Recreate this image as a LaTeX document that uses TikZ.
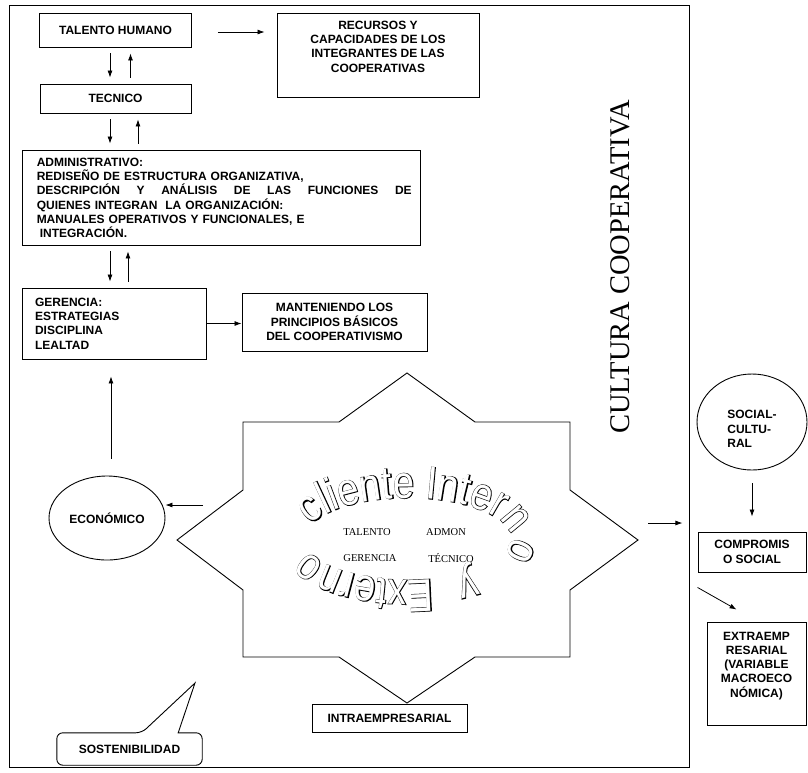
\documentclass[tikz,border=0pt]{standalone}
\usepackage{fontspec}
\setmainfont{Liberation Sans}
\newfontfamily\romana{Liberation Serif}
\newfontfamily\arco[FakeStretch=0.83]{Liberation Sans}
\newfontfamily\arcogrueso[FakeStretch=0.83,FakeBold=2.5]{Liberation Sans}
\usetikzlibrary{arrows.meta,shapes.geometric,decorations.text,positioning}
\newcommand{\letracaja}{\bfseries\fontsize{12}{14.3}\selectfont}
\newcommand{\letraarco}{\fontsize{46}{46}\selectfont}
\tikzstyle{caja}=[draw,line width=0.9pt,inner sep=0pt,font=\letracaja,align=center]
\tikzstyle{texto}=[inner sep=0pt,font=\letracaja]
\tikzstyle{elipse}=[caja,ellipse]
\tikzstyle{flecha}=[draw,line width=0.8pt,-{Latex[length=7pt,width=5pt]}]
\tikzstyle{palabra}=[inner sep=0pt,font=\romana\fontsize{10.5}{12}\selectfont]

\begin{document}
\begin{tikzpicture}[x=1pt,y=-1pt]
   \useasboundingbox (0,0) rectangle (808,772);
   \node[caja,minimum width=680pt,minimum height=762pt] (marco) at (349,386) {};
   \node[caja,minimum width=152pt,minimum height=34pt] (talento) at (115.5,30) {TALENTO HUMANO};
   \node[caja,minimum width=151pt,minimum height=29pt] (tecnico) at (115.5,98.5) {TECNICO};
   \node[caja,minimum width=202pt,minimum height=84pt] (recursos) at (378,55) {};
   \node[texto,align=center,anchor=north] (recursostxt) at ([yshift=-8pt]recursos.north)
        {RECURSOS Y\\CAPACIDADES DE LOS\\INTEGRANTES DE LAS\\COOPERATIVAS};
   \node[caja,minimum width=398pt,minimum height=95pt] (admin) at (221,197.5) {};
   \node[texto,anchor=north west,text width=375pt,align=left] (admintxt) at ([xshift=15pt,yshift=-8pt]admin.north west)
        {ADMINISTRATIVO:\\REDISEÑO DE ESTRUCTURA ORGANIZATIVA,\\
         \makebox[375pt][s]{DESCRIPCIÓN\hfill Y\hfill ANÁLISIS\hfill DE\hfill LAS\hfill FUNCIONES\hfill DE}\\
         QUIENES INTEGRAN\ \ LA ORGANIZACIÓN:\\MANUALES OPERATIVOS Y FUNCIONALES, E\\\hspace*{3pt}INTEGRACIÓN.};
   \node[caja,text width=158pt,inner xsep=13pt,minimum height=71pt,align=left] (gerencia) at (114,323.5)
        {GERENCIA:\\ESTRATEGIAS\\DISCIPLINA\\LEALTAD};
   \node[caja,minimum width=185pt,minimum height=58pt] (mant) at (334.5,322)
        {MANTENIENDO LOS\\PRINCIPIOS BÁSICOS\\DEL COOPERATIVISMO};
   \node[elipse,minimum width=116pt,minimum height=84pt] (eco) at (107,518) {ECONÓMICO};
   \node[caja,minimum width=155pt,minimum height=28pt] (intra) at (389.5,718) {INTRAEMPRESARIAL};
   \node[rotate=90,inner sep=0pt,font=\romana\fontsize{28.5}{30}\selectfont] (cultura) at (620,267) {CULTURA COOPERATIVA};
   \node[elipse,minimum width=110pt,minimum height=96pt] (social) at (752,422) {};
   \node[texto,align=left] (socialtxt) at ([yshift=-7pt]social) {SOCIAL-\\CULTU-\\RAL};
   \node[caja,minimum width=108pt,minimum height=40pt] (comp) at (752,552) {COMPROMIS\\O SOCIAL};
   \node[caja,minimum width=99pt,minimum height=103pt] (extra) at (756.5,673.5) {};
   \node[texto,align=center,anchor=north] (extratxt) at ([yshift=-10pt]extra.north)
        {EXTRAEMP\\RESARIAL\\(VARIABLE\\MACROECO\\NÓMICA)};
   \node[texto,minimum width=145pt,minimum height=32pt] (sost) at (129.5,749) {SOSTENIBILIDAD};
   \coordinate (sostpunta) at (195,683);
   \draw[line width=0.9pt,rounded corners=6pt] ([xshift=-24pt]sost.north east) -- (sost.north east)
        -- (sost.south east) -- (sost.south west) -- (sost.north west) -- ([xshift=85pt]sost.north west)
        [sharp corners] -- (sostpunta) -- cycle;
   % estrella
   \draw[line width=0.9pt] (407,373) -- (475,422) -- (570,422) -- (570,490) -- (638,540) -- (570,590)
        -- (570,657) -- (475,657) -- (407,703) -- (339,657) -- (243,657) -- (243,590) -- (177,540)
        -- (243,490) -- (243,422) -- (339,422) -- cycle;
   \coordinate (estrellaL) at (177,540);
   \coordinate (estrellaR) at (638,540);
   \coordinate (ecoin) at (203,505);
   \coordinate (culout) at (648,523);
   \foreach \pos/\name/\txt in {{(367,532)/w1/TALENTO}, {(446,532)/w2/ADMON}, {(370,558)/w3/GERENCIA}, {(451,558)/w4/TÉCNICO}}
        \node[palabra] (\name) at \pos {\txt};
   \foreach \ini/\fin/\palabras in {199/405/cliente Interno, 50/75/y, 76/195/Externo}
     \foreach \estilo in {\arcogrueso\color{black}, \arco\color{white}}
        \path[decorate,decoration={text along path,text align=left,
              text/.expanded={|\noexpand\estilo\noexpand\letraarco|\palabras}}]
              (408,539) ++(\ini:103 and 41) arc[start angle=\ini,end angle=\fin,x radius=103,y radius=41];
   % flechas
   \path[flecha] ([xshift=26pt,yshift=-2pt]talento.east) -- ([xshift=-12pt,yshift=-2pt]talento.east -| recursos.west);
   \foreach \a/\b/\xd/\xu in {talento/tecnico/110/130.5, tecnico/admin/110/138, admin/gerencia/110/128} {
        \path[flecha,shorten <=6pt,shorten >=6pt] (\xd,0 |- \a.south) -- (\xd,0 |- \b.north);
        \path[flecha,shorten <=6pt,shorten >=6pt] (\xu,0 |- \b.north) -- (\xu,0 |- \a.south);
   }
   \path[flecha] (gerencia.east) -- (gerencia.east -| mant.west);
   \path[flecha,shorten <=17pt,shorten >=17pt] ([xshift=4pt]eco.north) -- ([xshift=4pt]eco.north |- gerencia.south);
   \path[flecha] (ecoin) -- (ecoin -| eco.east);
   \path[flecha,shorten >=7pt] (culout) -- (culout -| marco.east);
   \path[flecha,shorten <=13pt,shorten >=15pt] (social.south) -- (comp.north);
   \path[flecha] ([yshift=-15pt]comp.south west) -- ([shift={(30,-12)}]extra.north west);
\end{tikzpicture}
\end{document}
